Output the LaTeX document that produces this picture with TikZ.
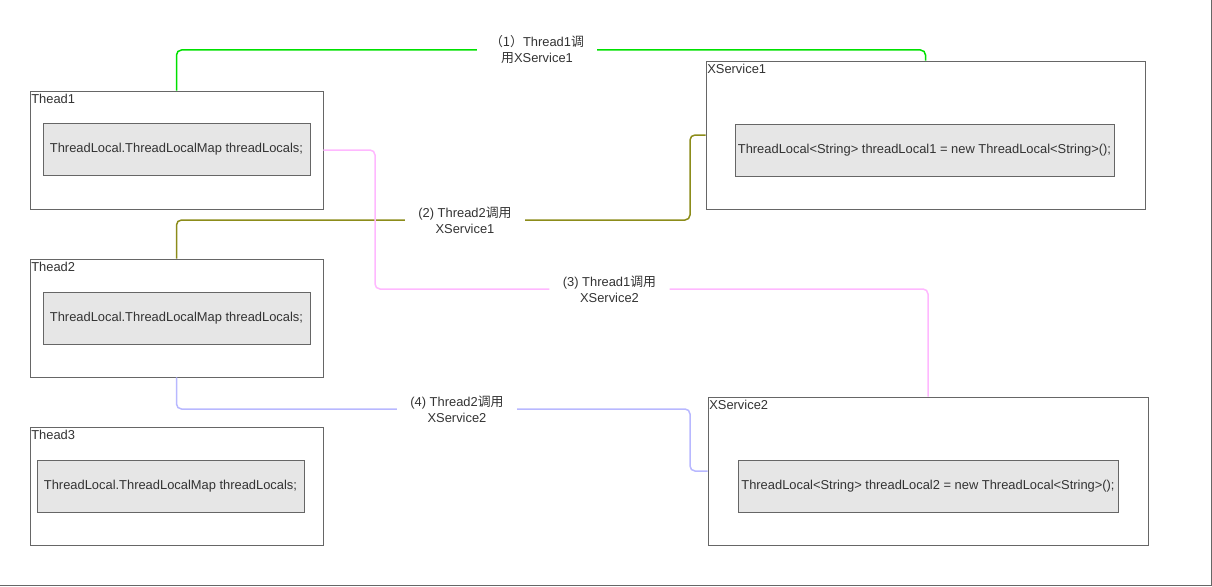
\documentclass[tikz,border=0pt]{standalone}
\usepackage{fontspec}
\setmainfont{Liberation Sans}
\newfontfamily\cjk{Noto Sans CJK SC}
\definecolor{boxgray}{HTML}{666666}
\definecolor{fillgray}{HTML}{E6E6E6}
\definecolor{txtgray}{HTML}{333333}
\definecolor{callA}{HTML}{00E000}
\definecolor{callB}{HTML}{8C8C1A}
\definecolor{callC}{HTML}{FFB8FF}
\definecolor{callD}{HTML}{B8B8FF}

\tikzset{
  frame/.style={draw=boxgray, line width=0.8pt, fill=white},
  thread/.style={frame, minimum width=293pt, minimum height=118pt},
  service/.style={frame, minimum width=440pt, minimum height=148pt},
  field/.style={draw=boxgray, line width=0.8pt, fill=fillgray, text=txtgray,
    minimum height=52pt, inner sep=1pt, font=\fontsize{12.9}{15}\selectfont},
  title/.style={anchor=north west, inner sep=1.5pt, yshift=-2pt, text=txtgray,
    font=\fontsize{12.9}{15}\selectfont},
  call/.style={align=center, minimum width=120pt, inner sep=0pt, text=txtgray,
    font=\fontsize{12.9}{16}\selectfont},
  link/.style={line width=1.5pt, rounded corners=5pt},
}

\begin{document}
\begin{tikzpicture}[x=1pt,y=-1pt]
\useasboundingbox (0,0) rectangle (1212,586);
\draw[boxgray, line width=0.8pt] (0,585) -- (1211,585) -- (1211,0);

% threads
\node[thread] (t1) at (176.5,150) {};
\node[title] at (t1.north west) {Thead1};
\node[field, minimum width=267pt] (m1) at (176.5,149.5) {ThreadLocal.ThreadLocalMap threadLocals;};

\node[thread] (t2) at (176.5,318) {};
\node[title] at (t2.north west) {Thead2};
\node[field, minimum width=267pt] (m2) at (176.5,318) {ThreadLocal.ThreadLocalMap threadLocals;};

\node[thread] (t3) at (176.5,486) {};
\node[title] at (t3.north west) {Thead3};
\node[field, minimum width=267pt] (m3) at (170.5,486) {ThreadLocal.ThreadLocalMap threadLocals;};

% services
\node[service, minimum width=439pt] (xs1) at (925.5,135) {};
\node[title] at (xs1.north west) {XService1};
\node[field, minimum width=379pt] (v1) at (924.5,150) {ThreadLocal<String> threadLocal1 = new ThreadLocal<String>();};

\node[service] (xs2) at (928,471) {};
\node[title] at (xs2.north west) {XService2};
\node[field, minimum width=380pt] (v2) at (928,486) {ThreadLocal<String> threadLocal2 = new ThreadLocal<String>();};

% calls
\node[call] (c1) at (537,50) {{\cjk （1）}Thread1{\cjk 调}\\{\cjk 用}XService1};
\node[call] (c2) at (465,220) {(2) Thread2{\cjk 调用}\\XService1};
\node[call] (c3) at (609.5,289) {(3) Thread1{\cjk 调用}\\XService2};
\node[call] (c4) at (457,409) {(4) Thread2{\cjk 调用}\\XService2};

\coordinate (k2) at (690,135);
\coordinate (k3) at (375,289);
\coordinate (k4) at (690,471);

\draw[link, callA] (t1.north) |- (c1.west);
\draw[link, callA] (c1.east) -| (xs1.north);
\draw[link, callB] (t2.north) |- (c2.west);
\draw[link, callB] (c2.east) -| (k2) -- (xs1.west);
\draw[link, callC] (t1.east) -| (k3) -- (c3.west);
\draw[link, callC] (c3.east) -| (xs2.north);
\draw[link, callD] (t2.south) |- (c4.west);
\draw[link, callD] (c4.east) -| (k4) -- (xs2.west);
\end{tikzpicture}
\end{document}
